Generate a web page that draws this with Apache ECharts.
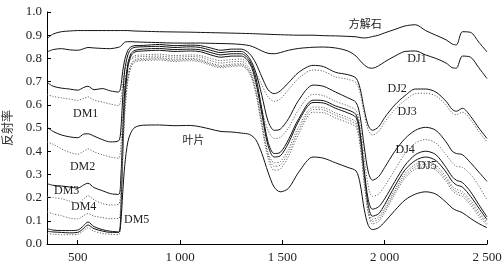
<!DOCTYPE html>
<html><head><meta charset="utf-8">
<script src="https://cdn.jsdelivr.net/npm/echarts@6/dist/echarts.min.js"></script>
<style>html,body{margin:0;padding:0;background:#fff}#c{width:504px;height:279px}</style>
</head><body><div id="c"></div>
<script>
// wavelength knots (nm)
const wavelengths = [350,380,420,460,500, 530,550,580,620,660, 700,710,720,730,745, 760,780,820,900,970,
  1050,1100,1150,1200,1250, 1300,1340,1370,1400,1430, 1460,1490,1530,1580,1650, 1700,1760,1820,1860,1880,
  1900,1920,1940,1970,2000, 2050,2100,2150,2200,2250, 2300,2330,2350,2380,2420, 2460,2500];

const calcite = [0.885,0.905,0.915,0.918,0.92, 0.92,0.92,0.92,0.92,0.92, 0.92,0.92,0.92,0.92,0.92, 0.919,0.918,0.917,0.915,0.914,
  0.913,0.912,0.911,0.91,0.909, 0.908,0.907,0.906,0.905,0.904, 0.903,0.902,0.901,0.9,0.9, 0.898,0.897,0.895,0.893,0.89,
  0.888,0.89,0.894,0.9,0.91, 0.925,0.94,0.945,0.92,0.9, 0.88,0.862,0.858,0.915,0.912, 0.87,0.828];
const dj1 = [0.828,0.838,0.842,0.837,0.835, 0.842,0.847,0.845,0.843,0.842, 0.848,0.852,0.862,0.87,0.872, 0.872,0.871,0.87,0.868,0.866,
  0.866,0.866,0.865,0.864,0.863, 0.86,0.855,0.845,0.832,0.822, 0.82,0.825,0.835,0.843,0.848, 0.849,0.845,0.832,0.81,0.79,
  0.772,0.76,0.758,0.768,0.785, 0.81,0.83,0.832,0.815,0.8, 0.78,0.76,0.758,0.81,0.805, 0.76,0.713];
const dj2 = [0.697,0.68,0.672,0.668,0.663, 0.675,0.68,0.665,0.67,0.66, 0.655,0.675,0.745,0.795,0.835, 0.85,0.855,0.856,0.86,0.855,
  0.857,0.855,0.845,0.835,0.84, 0.84,0.82,0.78,0.72,0.665, 0.648,0.66,0.695,0.74,0.77, 0.765,0.74,0.73,0.715,0.67,
  0.58,0.51,0.49,0.505,0.545, 0.6,0.64,0.668,0.668,0.655, 0.615,0.58,0.572,0.585,0.55, 0.5,0.455];
const dm1 = [0.644,0.636,0.63,0.625,0.619, 0.628,0.634,0.62,0.612,0.603, 0.597,0.617,0.69,0.75,0.785, 0.8,0.812,0.815,0.818,0.812,
  0.815,0.812,0.8,0.79,0.795, 0.797,0.775,0.74,0.685,0.635, 0.615,0.625,0.665,0.715,0.75, 0.745,0.72,0.71,0.695,0.65,
  0.56,0.49,0.47,0.485,0.525, 0.58,0.62,0.648,0.65,0.638, 0.598,0.565,0.557,0.568,0.535, 0.485,0.44];
const dj3 = [0.504,0.485,0.47,0.462,0.458, 0.474,0.475,0.465,0.45,0.44, 0.445,0.485,0.63,0.75,0.815, 0.84,0.848,0.85,0.852,0.847,
  0.85,0.847,0.835,0.825,0.83, 0.83,0.8,0.74,0.64,0.53, 0.49,0.495,0.54,0.62,0.685, 0.68,0.655,0.63,0.61,0.55,
  0.42,0.31,0.275,0.29,0.33, 0.4,0.455,0.49,0.503,0.49, 0.44,0.4,0.39,0.385,0.35, 0.31,0.27];
const dm2 = [0.44,0.43,0.41,0.395,0.387, 0.4,0.41,0.397,0.385,0.375, 0.37,0.415,0.56,0.69,0.77, 0.795,0.805,0.808,0.81,0.805,
  0.808,0.805,0.79,0.78,0.785, 0.787,0.755,0.69,0.58,0.49, 0.455,0.46,0.5,0.58,0.645, 0.64,0.615,0.595,0.575,0.51,
  0.37,0.25,0.205,0.215,0.25, 0.32,0.39,0.435,0.45,0.435, 0.385,0.35,0.335,0.33,0.3, 0.25,0.19];
const dj4 = [0.26,0.253,0.25,0.246,0.241, 0.255,0.262,0.243,0.23,0.217, 0.214,0.275,0.48,0.66,0.775, 0.82,0.835,0.84,0.843,0.838,
  0.84,0.837,0.825,0.815,0.82, 0.82,0.79,0.72,0.58,0.44, 0.39,0.395,0.45,0.54,0.62, 0.618,0.595,0.578,0.558,0.48,
  0.32,0.19,0.15,0.16,0.195, 0.27,0.34,0.385,0.4,0.385, 0.33,0.29,0.275,0.265,0.225, 0.17,0.117];
const dj5 = [0.066,0.06,0.058,0.058,0.06, 0.08,0.095,0.075,0.062,0.055, 0.052,0.13,0.39,0.61,0.76, 0.81,0.828,0.832,0.835,0.83,
  0.832,0.829,0.815,0.805,0.81, 0.81,0.78,0.7,0.56,0.425, 0.375,0.38,0.435,0.53,0.61, 0.608,0.585,0.565,0.545,0.465,
  0.3,0.165,0.12,0.13,0.17, 0.25,0.32,0.36,0.375,0.36, 0.31,0.27,0.255,0.245,0.205, 0.155,0.105];
const dm3 = [0.203,0.2,0.195,0.185,0.176, 0.195,0.208,0.19,0.175,0.168, 0.172,0.23,0.43,0.6,0.72, 0.775,0.795,0.8,0.803,0.797,
  0.8,0.795,0.78,0.77,0.775, 0.777,0.745,0.665,0.525,0.395, 0.35,0.355,0.41,0.505,0.59, 0.588,0.565,0.545,0.525,0.445,
  0.28,0.15,0.107,0.117,0.155, 0.235,0.305,0.343,0.355,0.34, 0.29,0.25,0.236,0.225,0.188, 0.14,0.095];
const dm4 = [0.138,0.13,0.122,0.112,0.108, 0.123,0.131,0.12,0.114,0.109, 0.11,0.17,0.39,0.575,0.71, 0.765,0.79,0.795,0.798,0.792,
  0.795,0.79,0.775,0.765,0.77, 0.772,0.74,0.66,0.515,0.385, 0.335,0.34,0.395,0.49,0.58, 0.578,0.555,0.535,0.515,0.435,
  0.27,0.14,0.097,0.107,0.145, 0.225,0.295,0.333,0.343,0.328, 0.28,0.24,0.226,0.215,0.178, 0.13,0.088];
const dm5 = [0.045,0.042,0.04,0.04,0.042, 0.058,0.07,0.055,0.046,0.042, 0.04,0.11,0.36,0.56,0.7, 0.76,0.785,0.79,0.793,0.787,
  0.79,0.785,0.77,0.76,0.765, 0.767,0.735,0.65,0.505,0.37, 0.318,0.323,0.378,0.475,0.568, 0.566,0.543,0.523,0.503,0.423,
  0.26,0.13,0.087,0.097,0.135, 0.215,0.285,0.323,0.333,0.318, 0.27,0.23,0.216,0.205,0.168, 0.12,0.08];
const leaf = [0.055,0.052,0.05,0.048,0.05, 0.068,0.082,0.066,0.056,0.05, 0.05,0.085,0.22,0.34,0.44, 0.48,0.503,0.512,0.513,0.51,
  0.511,0.505,0.495,0.485,0.483, 0.478,0.472,0.45,0.39,0.31, 0.245,0.225,0.24,0.31,0.375, 0.37,0.35,0.33,0.315,0.26,
  0.15,0.08,0.062,0.07,0.095, 0.145,0.19,0.215,0.225,0.215, 0.18,0.155,0.145,0.135,0.11, 0.088,0.07];

const xTicks = [500,1000,1500,2000,2500];
const labelTexts = ['方解石','DJ1','DJ2','DJ3','DJ4','DJ5','DM1','DM2','DM3','DM4','DM5','叶片'];
const labelAnchors = [[1905,0.947],[2158,0.796],[2061,0.667],[2110,0.568],[2100,0.404],[2207,0.339],
  [539,0.559],[524,0.331],[446,0.227],[529,0.162],[788,0.102],[1066,0.447]];

const curves = [
  {n:'方解石', d:calcite, dot:false}, {n:'DJ1', d:dj1, dot:false}, {n:'DJ2', d:dj2, dot:false},
  {n:'DM1', d:dm1, dot:true}, {n:'DJ3', d:dj3, dot:false}, {n:'DM2', d:dm2, dot:true},
  {n:'DJ4', d:dj4, dot:false}, {n:'DJ5', d:dj5, dot:false}, {n:'DM3', d:dm3, dot:true},
  {n:'DM4', d:dm4, dot:true}, {n:'DM5', d:dm5, dot:true}, {n:'叶片', d:leaf, dot:false}
];

const serif = '"Liberation Serif","DejaVu Serif",serif';
const cjk = '"Noto Sans CJK SC","Liberation Serif",serif';
const chart = echarts.init(document.getElementById('c'));
chart.setOption({
  animation:false,
  grid:{left:47,right:17,top:12,bottom:35,containLabel:false,outerBoundsMode:'none'},
  xAxis:{type:'value',min:350,max:2500,
    name:'波长(nm)',nameLocation:'middle',nameGap:35,
    nameTextStyle:{fontFamily:cjk,fontSize:12,color:'#333'},
    axisLine:{lineStyle:{color:'#000',width:1}},
    axisTick:{inside:true,length:4,customValues:xTicks,lineStyle:{color:'#000'}},
    axisLabel:{customValues:xTicks,margin:7,fontFamily:serif,fontSize:13,color:'#222',
      formatter:v=>String(v).replace(/\B(?=(\d{3})+$)/,' ')},
    splitLine:{show:false}},
  yAxis:{type:'value',min:0,max:1,interval:0.1,
    name:'反射率',nameLocation:'middle',nameGap:34,nameRotate:90,
    nameTextStyle:{fontFamily:cjk,fontSize:12,color:'#333'},
    axisLine:{show:true,lineStyle:{color:'#000',width:1}},
    axisTick:{show:true,inside:true,length:4,lineStyle:{color:'#000'}},
    axisLabel:{margin:5,fontFamily:serif,fontSize:13,color:'#222',formatter:v=>v.toFixed(1)},
    splitLine:{show:false}},
  series: curves.map(c=>({
    name:c.n,type:'line',showSymbol:false,smooth:0.3,silent:true,
    data: wavelengths.map((w,i)=>[w,c.d[i]]),
    lineStyle: c.dot ? {color:'#666',width:1,type:[1.2,1.6]} : {color:'#111',width:1}
  }))
});
const g = labelAnchors.map((p,i)=>{
  const px = chart.convertToPixel({gridIndex:0}, p);
  const isCjk = /[^\x00-\x7f]/.test(labelTexts[i]);
  return {type:'text',x:px[0],y:px[1],silent:true,
    style:{text:labelTexts[i],align:'center',verticalAlign:'middle',
      font:(isCjk?'11px '+cjk:'12px '+serif),fill:'#222'}};
});
chart.setOption({graphic:g});
</script></body></html>
